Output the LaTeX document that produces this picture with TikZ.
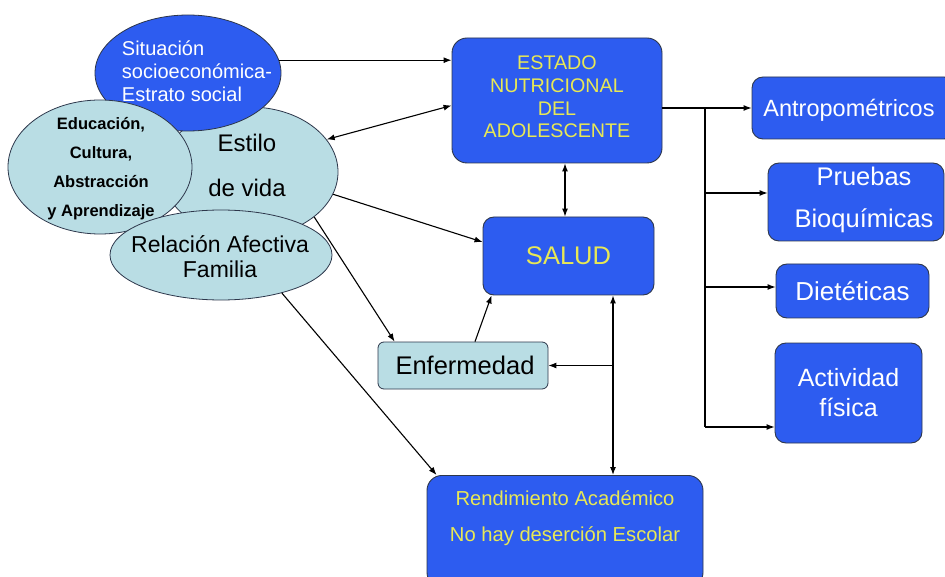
\documentclass[tikz,border=0pt]{standalone}
\usepackage{fontspec}
\setmainfont{Liberation Sans}
\usetikzlibrary{shapes.geometric,arrows.meta,calc}
\definecolor{bx}{RGB}{45,92,240}
\definecolor{lb}{RGB}{185,221,228}
\definecolor{yt}{RGB}{232,232,85}
\definecolor{ed}{RGB}{45,55,75}
\begin{document}
\begin{tikzpicture}[x=1pt,y=-1pt,
  bluebox/.style={draw=ed, fill=bx, rounded corners=11pt, line width=0.9pt, inner sep=0pt},
  lbell/.style={ellipse, draw=ed, fill=lb, line width=0.8pt, inner sep=0pt},
  txt/.style={align=center, inner sep=0pt},
  ln/.style={draw=black, line width=1.1pt},
  arr/.style={ln, -{Latex[length=8pt,width=6pt]}},
  darr/.style={ln, {Latex[length=8pt,width=6pt]}-{Latex[length=8pt,width=6pt]}}]
\useasboundingbox (0,0) rectangle (945,577);
\clip (0,0) rectangle (945,577);
\fill[white] (0,0) rectangle (945,577);
% ellipses
\node[lbell, minimum width=176, minimum height=130] (estilo) at (250,172) {};
\node[txt, font=\fontsize{24}{45}\selectfont] (estilotxt) at (247,165) {Estilo\\de vida};
\node[ellipse, draw=ed, fill=bx, line width=0.8pt, inner sep=0pt, minimum width=186,
      minimum height=116] (sit) at (188,73) {};
\node[txt, align=left, text=white, font=\fontsize{20}{23}\selectfont] (sittxt) at (197,71)
      {Situación\\socioeconómica-\\Estrato social};
\node[lbell, minimum width=184, minimum height=134] (edu) at (100,167) {};
\node[txt, font=\bfseries\fontsize{16.5}{29}\selectfont] (edutxt) at (101,169)
      {Educación,\\Cultura,\\Abstracción\\y Aprendizaje};
\node[lbell, minimum width=222, minimum height=90] (rel) at (221,255) {};
\node[txt, font=\fontsize{23}{25}\selectfont] (reltxt) at (220,257) {Relación Afectiva\\Familia};
% boxes
\node[bluebox, rounded corners=15pt, minimum width=210, minimum height=125] (estado) at (557,100.5) {};
\node[txt, text=yt, font=\fontsize{19.7}{22.7}\selectfont] (estadotxt) at (557,97)
      {ESTADO\\NUTRICIONAL\\DEL\\ADOLESCENTE};
\node[bluebox, minimum width=171, minimum height=78, text=yt,
      font=\fontsize{25.5}{28}\selectfont] (salud) at (568.5,256) {SALUD};
\node[bluebox, minimum width=203, minimum height=62] (antro) at (853.5,108) {};
\node[txt, text=white, font=\fontsize{23.5}{28}\selectfont] (antrotxt) at (849,110) {Antropométricos};
\node[bluebox, minimum width=176, minimum height=78] (pru) at (856,202) {};
\node[txt, text=white, font=\fontsize{25.5}{42}\selectfont] (prutxt) at (864,200) {Pruebas\\Bioquímicas};
\node[bluebox, minimum width=153, minimum height=54, text=white,
      font=\fontsize{26}{28}\selectfont] (diet) at (852.5,291) {Dietéticas};
\node[bluebox, minimum width=147, minimum height=100, text=white, align=center,
      font=\fontsize{25}{30}\selectfont] (act) at (848.5,393) {Actividad\\física};
\node[draw=ed, fill=lb, line width=0.8pt, rounded corners=6pt, minimum width=170, minimum height=47,
      inner sep=0pt, font=\fontsize{25.5}{28}\selectfont] (enf) at (463,365.5) {\hspace{4pt}Enfermedad};
\node[bluebox, rounded corners=15pt, minimum width=276, minimum height=112, anchor=north] (rend) at (565,475) {};
\node[txt, text=yt, font=\fontsize{20.2}{36}\selectfont] (rendtxt) at ([yshift=-43pt]rend.north)
      {Rendimiento Académico\\No hay deserción Escolar};
% connectors
\draw[arr] (sit.8) -- (sit.8 -| estado.west);
\draw[darr] (estilo.23) -- ([yshift=-5pt]estado.west);
\draw[arr] (estilo.-15) -- ([yshift=14pt]salud.west);
\draw[arr] (estilo.-35) -- ([xshift=17pt]enf.north west);
\draw[arr] (rel.-32) -- ([xshift=10pt]rend.north west);
\draw[arr] ([xshift=12pt]enf.north) -- ([xshift=9pt]salud.south west);
\draw[darr] ([xshift=8pt]estado.south) -- ([xshift=8pt]estado.south |- salud.north);
\coordinate (v) at (613,365.5);
\draw[darr] (salud.south -| v) -- (rend.north -| v);
\draw[arr] (v) -- (enf.east);
\coordinate (b1) at (705,108);
\coordinate (b2) at (705,193);
\coordinate (b3) at (705,287);
\coordinate (b4) at (705,427);
\draw[ln] (estado.east |- b1) -- (b1) -- (b4);
\draw[arr] (b1) -- (antro.west);
\draw[arr] (b2) -- (b2 -| pru.west);
\draw[arr] (b3) -- (b3 -| diet.west);
\draw[arr] (b4) -- (b4 -| act.west);
\end{tikzpicture}
\end{document}
